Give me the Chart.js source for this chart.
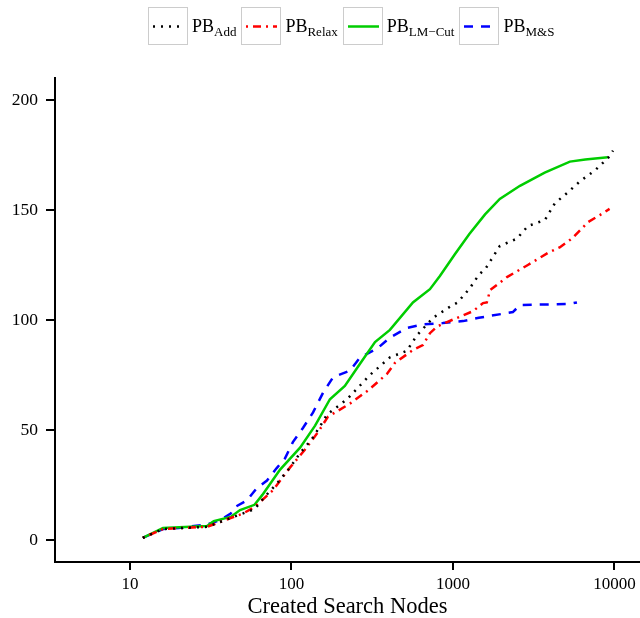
<!DOCTYPE html>
<html>
<head>
<meta charset="utf-8">
<script src="https://cdn.jsdelivr.net/npm/chart.js@4.4.1/dist/chart.umd.min.js"></script>
<style>
    body { margin: 0; background: #fff; }
    #wrap { position: relative; width: 640px; height: 618px; }
    #legend {
        position: absolute; top: 7px; left: 148px;
        display: flex; align-items: center;
        font-family: "Liberation Serif", serif; font-size: 18px; color: #000;
    }
    .item { display: flex; align-items: center; margin-right: 5px; }
    .box { width: 38px; height: 36px; border: 1px solid #ccc; margin-right: 4px; }
    .box canvas { display: block; }
    sub { font-size: 13px; vertical-align: -4px; line-height: 0; }
</style>
</head>
<body>
<div id="wrap">
    <canvas id="myChart" width="640" height="618"></canvas>
    <div id="legend"></div>
</div>
<script>
const FONT = "Liberation Serif";

const xTicks = [10, 100, 1000, 10000];
const yTicks = [0, 50, 100, 150, 200];

// PB_Add
const addNodes = [12, 16, 30, 42, 59, 69, 82, 98, 113, 134, 154, 166, 221, 306, 407, 518, 598, 752, 956, 1070, 1273, 1445, 1600, 1950, 2490, 2910, 3710, 4270, 5140, 6110, 7570, 9120, 9800];
const addSolved = [1, 5, 6, 10, 14, 20, 26, 33, 39.5, 46, 53, 57, 64, 75, 83, 86, 93, 101, 106, 108, 114.5, 120.5, 123.6, 133.6, 137, 142.7, 145.5, 153, 158, 163, 168, 173.6, 177];

// PB_Relax
const relaxNodes = [12, 16, 30, 42, 50, 59, 77, 98, 121, 146, 168, 230, 298, 390, 437, 566, 651, 720, 795, 986, 1330, 1535, 1620, 1700, 2160, 2910, 3870, 4580, 5450, 6860, 8130, 9330];
const relaxSolved = [1, 5, 6, 10, 12, 15, 22.7, 33, 41, 49, 56, 62, 68, 75.5, 80.5, 86.4, 88.6, 94, 97, 100, 104, 107.7, 108, 113.6, 119.5, 125, 130.5, 133, 137, 144.5, 147.7, 150.5];

// PB_LM-Cut
const lmcutNodes = [12, 16, 30, 33, 42, 48, 59, 66, 85, 113, 140, 173, 214, 265, 329, 407, 565, 720, 830, 1030, 1260, 1580, 1950, 2600, 3700, 5300, 6600, 9100];
const lmcutSolved = [1, 5.5, 6.4, 8.6, 10.5, 13.6, 16, 20.5, 32, 42, 52, 64, 70, 80, 90, 95.5, 108, 114, 120, 130, 139, 148, 155, 161, 167, 172, 173, 174];

// PB_M&S
const msNodes = [12, 16, 20, 30, 36, 42, 44.7, 53, 61, 70.5, 81, 91, 102, 118, 136, 157, 181, 230, 266, 339, 407, 519, 651, 866, 1155, 1445, 2350, 2600, 5250, 5860];
const msSolved = [1, 5, 5.5, 7, 9, 12, 15, 18, 23.6, 27, 32.7, 37, 44.5, 51, 58, 67, 74, 77, 83, 87, 92, 96.4, 98, 98.6, 99.5, 101, 103.6, 106.8, 107.3, 108];

const series = [
    { name: "PB", sub: "Add", nodes: addNodes, solved: addSolved, color: "#000000", dash: [2, 6] },
    { name: "PB", sub: "Relax", nodes: relaxNodes, solved: relaxSolved, color: "#ff0000", dash: [2, 5, 8, 5] },
    { name: "PB", sub: "LM\u2212Cut", nodes: lmcutNodes, solved: lmcutSolved, color: "#00cd00", dash: [] },
    { name: "PB", sub: "M&S", nodes: msNodes, solved: msSolved, color: "#0000ff", dash: [9, 8] },
];

// html legend with subscripts
const legend = document.getElementById("legend");
for (const s of series) {
    const item = document.createElement("div");
    item.className = "item";
    const box = document.createElement("div");
    box.className = "box";
    const c = document.createElement("canvas");
    c.width = 38;
    c.height = 36;
    const g = c.getContext("2d");
    g.strokeStyle = s.color;
    g.lineWidth = 2.5;
    g.setLineDash(s.dash);
    g.beginPath();
    g.moveTo(4, 18.5);
    g.lineTo(35, 18.5);
    g.stroke();
    box.appendChild(c);
    const label = document.createElement("span");
    label.innerHTML = s.name + "<sub></sub>";
    label.querySelector("sub").textContent = s.sub;
    item.appendChild(box);
    item.appendChild(label);
    legend.appendChild(item);
}

const ctx = document.getElementById("myChart");

new Chart(ctx, {
    type: "line",
    data: {
        datasets: series.map((s) => ({
            label: s.name + s.sub,
            data: s.nodes.map((n, i) => ({ x: n, y: s.solved[i] })),
            borderColor: s.color,
            borderDash: s.dash,
            borderWidth: 2.5,
            pointRadius: 0,
            tension: 0,
            fill: false,
        })),
    },
    options: {
        responsive: false,
        animation: false,
        layout: { padding: { top: 78, left: 0, right: 0, bottom: 0 } },
        plugins: {
            legend: { display: false },
            tooltip: { enabled: false },
        },
        scales: {
            x: {
                type: "logarithmic",
                min: 3.43,
                max: 14400,
                grid: { drawOnChartArea: false, drawTicks: true, tickLength: 8, color: "#000", lineWidth: 2 },
                border: { display: true, color: "#000", width: 2 },
                ticks: {
                    font: { family: FONT, size: 17 },
                    color: "#000",
                    padding: 4,
                    maxRotation: 0,
                    autoSkip: false,
                    callback: (v) => String(v),
                },
                title: {
                    display: true,
                    text: "Created Search Nodes",
                    font: { family: FONT, size: 22.5 },
                    color: "#000",
                    padding: { top: 0, bottom: -3 },
                },
                afterBuildTicks: (scale) => {
                    scale.ticks = xTicks.map((v) => ({ value: v }));
                },
                afterFit: (scale) => {
                    scale.height = 56;
                },
            },
            y: {
                min: -10,
                max: 210,
                grid: { drawOnChartArea: false, drawTicks: true, tickLength: 9, color: "#000", lineWidth: 2 },
                border: { display: true, color: "#000", width: 2 },
                ticks: {
                    font: { family: FONT, size: 17.5 },
                    color: "#000",
                    padding: 8,
                },
                afterBuildTicks: (scale) => {
                    scale.ticks = yTicks.map((v) => ({ value: v }));
                },
                afterFit: (scale) => {
                    scale.width = 55;
                },
            },
        },
    },
});
</script>
</body>
</html>
